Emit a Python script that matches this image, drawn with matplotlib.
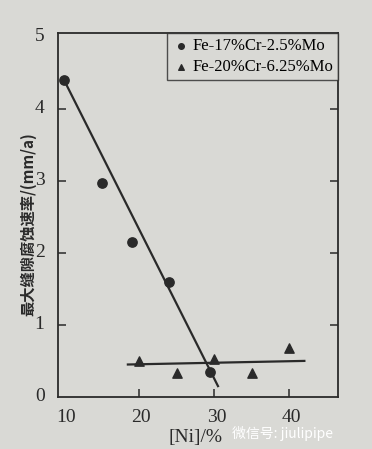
import matplotlib
matplotlib.use("Agg")
import matplotlib.pyplot as plt

# data
ni_a = [10, 15, 19, 24, 29.5]
rate_a = [4.4, 2.97, 2.15, 1.6, 0.35]
ni_b = [20, 25, 30, 35, 40]
rate_b = [0.5, 0.33, 0.52, 0.33, 0.68]
fit_a_x = [10, 30.5]
fit_a_y = [4.4, 0.15]
fit_b_x = [18.5, 42]
fit_b_y = [0.45, 0.5]
label_a = "Fe-17%Cr-2.5%Mo"
label_b = "Fe-20%Cr-6.25%Mo"
xticks = [20, 30, 40]
yticks = [1, 2, 3, 4]

bg = "#d9d9d5"
ink = "#2a2a2a"
serif = ["Liberation Serif", "DejaVu Serif"]

fig = plt.figure(figsize=(3.72, 4.49), dpi=100, facecolor=bg)
ax = fig.add_axes([0.156, 0.116, 0.753, 0.810], facecolor=bg)

ax.plot(fit_a_x, fit_a_y, color=ink, lw=1.6)
ax.plot(fit_b_x, fit_b_y, color=ink, lw=1.6)
ax.scatter(ni_a, rate_a, s=45, color=ink, marker="o", label=label_a, zorder=3)
ax.scatter(ni_b, rate_b, s=45, color=ink, marker="^", label=label_b, zorder=3)

ax.set_xlim(9.2, 46.5)
ax.set_ylim(0, 5.05)
ax.set_xticks(xticks)
ax.set_yticks(yticks)
ax.set_xticklabels([])
ax.set_yticklabels([])
ax.tick_params(direction="in", length=6, width=1.1, color=ink, right=True)
for s in ax.spines.values():
    s.set_color(ink)
    s.set_linewidth(1.3)

# tick labels placed by hand around the frame, as in the print
for v in [10, 20, 30, 40]:
    ax.text(v + 0.3, -0.17, str(v), ha="center", va="top", fontsize=14, family=serif, color=ink)
for v in [0, 1, 2, 3, 4, 5]:
    ax.text(7.4, v, str(v), ha="right", va="center", fontsize=14, family=serif, color=ink)

ax.text(27.5, -0.45, "[Ni]/%", ha="center", va="top", fontsize=14, family=serif, color=ink)
fig.text(0.075, 0.5, "最大缝隙腐蚀速率/(mm/a)", rotation=90, ha="center", va="center",
         fontsize=11, family=["Noto Sans CJK SC", "DejaVu Sans"], color=ink, fontweight="bold")

leg = ax.legend(loc="upper right", frameon=True, fancybox=False, handletextpad=0.2,
                borderpad=0.3, labelspacing=0.3, handlelength=1.0, borderaxespad=0.0,
                prop={"family": serif, "size": 12}, markerscale=0.6)
leg.get_frame().set_edgecolor(ink)
leg.get_frame().set_facecolor(bg)
leg.get_frame().set_linewidth(1.0)

fig.text(0.76, 0.035, "微信号: jiulipipe", ha="center", va="center", fontsize=10,
         family=["Noto Sans CJK SC", "DejaVu Sans"], color="white")

fig.savefig("out.png", dpi=100, facecolor=bg)
